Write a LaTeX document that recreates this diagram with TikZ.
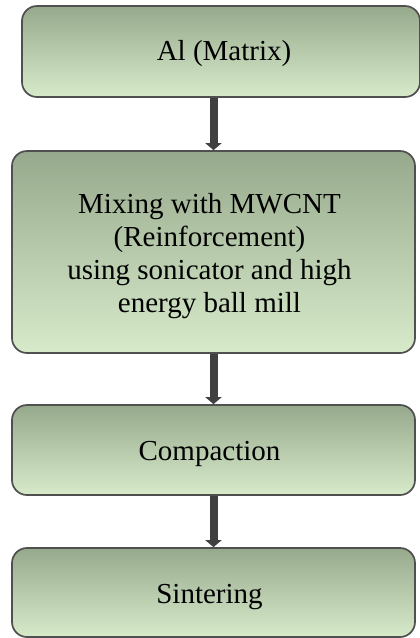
\documentclass[tikz,border=0pt]{standalone}
\usepackage{fontspec}
\setmainfont{Liberation Serif}
\usetikzlibrary{arrows.meta}
\definecolor{topg}{HTML}{97A98C}
\definecolor{botg}{HTML}{D7EBCB}
\definecolor{edgec}{HTML}{505050}
\definecolor{arrc}{HTML}{404040}
\begin{document}
\begin{tikzpicture}[x=1pt,y=1pt,
 stepbox/.style={draw=edgec, line width=1.7pt, rounded corners=15pt, top color=topg, bottom color=botg, inner sep=0pt},
 lbl/.style={align=center, font=\fontsize{29}{33}\selectfont, inner sep=0pt},
 flow/.style={draw=arrc, line width=8pt, -{Triangle[width=16pt,length=7pt]}}]
\fill[white] (0,0) rectangle (420,-638);
\useasboundingbox (0,0) rectangle (420,-638);
\node[stepbox, minimum width=398pt, minimum height=91pt] (b1) at (221,-51.5) {};
\node[stepbox, minimum width=403pt, minimum height=202pt] (b2) at (213.5,-252) {};
\node[stepbox, minimum width=403pt, minimum height=90pt] (b3) at (213.5,-450) {};
\node[stepbox, minimum width=403pt, minimum height=89pt] (b4) at (213.5,-592.5) {};
\node[lbl] (t1) at ([xshift=3pt,yshift=-2.5pt]b1.center) {Al (Matrix)};
\node[lbl] (t2) at ([xshift=-4pt,yshift=-4pt]b2.center) {Mixing with MWCNT\\(Reinforcement)\\using sonicator and high\\energy ball mill};
\node[lbl] (t3) at ([xshift=-4pt,yshift=-4pt]b3.center) {Compaction};
\node[lbl] (t4) at ([xshift=-4pt,yshift=-4.5pt]b4.center) {Sintering};
\draw[flow] (b2.north |- b1.south) -- (b2.north);
\draw[flow] (b2.south) -- (b3.north);
\draw[flow] (b3.south) -- (b4.north);
\end{tikzpicture}
\end{document}
